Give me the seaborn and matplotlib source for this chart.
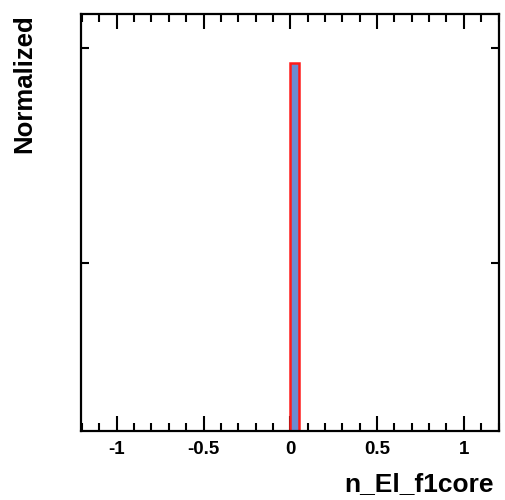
import numpy as np
import pandas as pd
import matplotlib
matplotlib.use("Agg")
import matplotlib.pyplot as plt
from matplotlib.ticker import MultipleLocator, NullLocator, NullFormatter, FixedLocator
import seaborn as sns

# Histogram content: one filled bin of n_El_f1core
bin_centers = [0.025]
bin_weights = [0.857]
bin_edges = [round(-1.2 + 0.05 * i, 3) for i in range(49)]

x_major = [-1, -0.5, 0, 0.5, 1]
x_labels = ["-1", "-0.5", "0", "0.5", "1"]
y_major = [0.1, 1.0]

df = pd.DataFrame({"n_El_f1core": bin_centers, "w": bin_weights})

sns.set_style("white")
plt.rcParams["font.family"] = ["Liberation Sans", "DejaVu Sans"]
plt.rcParams["font.weight"] = "bold"
plt.rcParams["text.color"] = "black"
plt.rcParams["xtick.color"] = "black"
plt.rcParams["ytick.color"] = "black"

fig = plt.figure(figsize=(5.06, 5.0), dpi=100)
ax = fig.add_axes([0.160, 0.138, 0.826, 0.834])

sns.histplot(data=df, x="n_El_f1core", weights="w", bins=bin_edges, ax=ax,
             stat="count", element="bars", fill=True,
             color="#6b8bd2", alpha=1.0, edgecolor="#ff1a1a", linewidth=1.8)
ax.set_yscale("log")

ax.set_xlim(-1.206, 1.202)
ax.set_ylim(0.0166, 1.444)

for s in ax.spines.values():
    s.set_visible(True)
    s.set_linewidth(1.6)
    s.set_color("black")

ax.xaxis.set_major_locator(FixedLocator(x_major))
ax.set_xticklabels(x_labels)
ax.xaxis.set_minor_locator(MultipleLocator(0.1))
ax.yaxis.set_major_locator(FixedLocator(y_major))
ax.yaxis.set_minor_locator(NullLocator())
ax.yaxis.set_major_formatter(NullFormatter())
ax.yaxis.set_minor_formatter(NullFormatter())

ax.tick_params(axis="x", which="major", direction="in", length=11, width=1.5,
               top=True, bottom=True, labelsize=13.5, pad=7,
               labelcolor="black")
ax.tick_params(axis="x", which="minor", direction="in", length=6, width=1.5,
               top=True, bottom=True)
ax.tick_params(axis="y", which="major", direction="in", length=6, width=1.5,
               left=True, right=True, labelleft=False)
for lab in ax.get_xticklabels():
    lab.set_fontweight("bold")

ax.set_xlabel("")
ax.set_ylabel("")
fig.text(0.975, 0.008, "n_El_f1core", ha="right", va="bottom",
         fontsize=19, fontweight="bold", color="black")
fig.text(0.047, 0.972, "Normalized", ha="center", va="top", rotation=90,
         fontsize=18.5, fontweight="bold", color="black")

fig.savefig("out.png", dpi=100)
